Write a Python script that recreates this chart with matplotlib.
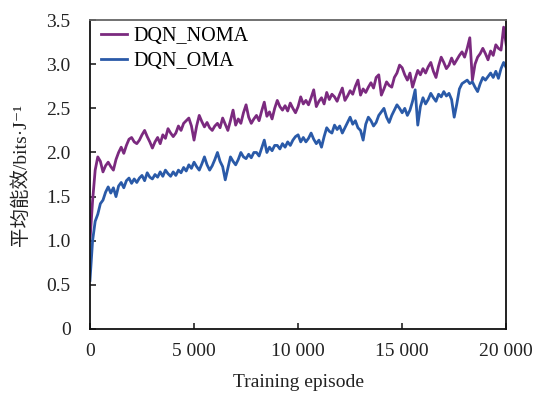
import matplotlib
matplotlib.use("Agg")
import matplotlib.pyplot as plt
import numpy as np

plt.rcParams['font.family'] = ['Liberation Serif', 'Noto Sans CJK SC', 'DejaVu Sans']

# epizode: svaka 125-ta
episodes = np.arange(0, 20001, 125)

# DQN_NOMA - ocitano sa slike
noma = [1.00, 1.45, 1.80, 1.95, 1.90, 1.78, 1.85, 1.89,
        1.84, 1.80, 1.92, 2.00, 2.06, 1.99, 2.08, 2.15,
        2.17, 2.12, 2.10, 2.14, 2.20, 2.25, 2.18, 2.12,
        2.05, 2.12, 2.17, 2.10, 2.20, 2.16, 2.27, 2.22,
        2.18, 2.22, 2.30, 2.25, 2.33, 2.36, 2.39, 2.30,
        2.14, 2.30, 2.42, 2.35, 2.29, 2.34, 2.28, 2.25,
        2.30, 2.33, 2.28, 2.39, 2.32, 2.25, 2.36, 2.48,
        2.31, 2.38, 2.33, 2.45, 2.54, 2.40, 2.33, 2.38,
        2.42, 2.36, 2.47, 2.57, 2.41, 2.46, 2.38, 2.50,
        2.59, 2.52, 2.48, 2.53, 2.47, 2.56, 2.50, 2.45,
        2.52, 2.63, 2.55, 2.59, 2.54, 2.62, 2.71, 2.52,
        2.58, 2.62, 2.55, 2.68, 2.60, 2.66, 2.63, 2.58,
        2.66, 2.73, 2.59, 2.64, 2.70, 2.66, 2.75, 2.82,
        2.65, 2.72, 2.68, 2.74, 2.79, 2.73, 2.85, 2.88,
        2.65, 2.72, 2.80, 2.76, 2.74, 2.85, 2.90, 2.99,
        2.96, 2.88, 2.82, 2.90, 2.74, 2.84, 2.93, 2.88,
        2.95, 2.90, 2.97, 3.02, 2.92, 2.85, 2.98, 3.08,
        3.02, 2.95, 2.99, 3.07, 3.00, 3.05, 3.10, 3.14,
        3.08, 3.18, 3.30, 2.82, 3.00, 3.08, 3.12, 3.18,
        3.12, 3.05, 3.15, 3.10, 3.22, 3.18, 3.16, 3.42,
        3.22]

# DQN_OMA
oma = [0.55, 1.00, 1.22, 1.30, 1.42, 1.46, 1.55, 1.61,
       1.54, 1.60, 1.50, 1.62, 1.66, 1.60, 1.68, 1.71,
       1.65, 1.70, 1.66, 1.71, 1.74, 1.68, 1.77, 1.72,
       1.70, 1.75, 1.72, 1.78, 1.73, 1.80, 1.76, 1.73,
       1.78, 1.74, 1.80, 1.77, 1.83, 1.79, 1.86, 1.82,
       1.89, 1.84, 1.80, 1.87, 1.95, 1.86, 1.80, 1.85,
       1.92, 2.00, 1.90, 1.84, 1.69, 1.82, 1.95, 1.90,
       1.86, 1.92, 2.00, 1.95, 1.93, 1.98, 1.94, 2.00,
       2.00, 1.96, 2.05, 2.14, 2.00, 2.06, 2.02, 2.08,
       2.08, 2.04, 2.10, 2.06, 2.12, 2.08, 2.14, 2.18,
       2.20, 2.12, 2.17, 2.12, 2.16, 2.22, 2.15, 2.10,
       2.14, 2.06, 2.18, 2.28, 2.24, 2.22, 2.31, 2.26,
       2.30, 2.22, 2.28, 2.34, 2.40, 2.32, 2.36, 2.28,
       2.25, 2.14, 2.32, 2.40, 2.36, 2.30, 2.34, 2.42,
       2.46, 2.50, 2.40, 2.34, 2.42, 2.48, 2.54, 2.50,
       2.45, 2.50, 2.42, 2.48, 2.58, 2.71, 2.31, 2.52,
       2.62, 2.55, 2.60, 2.67, 2.62, 2.58, 2.66, 2.63,
       2.69, 2.64, 2.67, 2.60, 2.40, 2.55, 2.72, 2.78,
       2.80, 2.82, 2.78, 2.80, 2.74, 2.69, 2.78, 2.85,
       2.82, 2.86, 2.90, 2.85, 2.92, 2.84, 2.95, 3.02,
       2.96]

xticks = [0, 5000, 10000, 15000, 20000]
xticklabels = ["0", "5 000", "10 000", "15 000", "20 000"]
yticks = [0, 0.5, 1.0, 1.5, 2.0, 2.5, 3.0, 3.5]
yticklabels = ["0", "0.5", "1.0", "1.5", "2.0", "2.5", "3.0", "3.5"]

fig = plt.figure(figsize=(5.42, 3.94), dpi=100)
ax = fig.add_axes([0.166, 0.165, 0.768, 0.784])

ax.plot(episodes, noma, color="#7b2a7f", lw=2.0, label="DQN_NOMA")
ax.plot(episodes, oma, color="#2a5aa8", lw=2.0, label="DQN_OMA")

ax.set_xlim(0, 20000)
ax.set_ylim(0, 3.5)
ax.set_xticks(xticks)
ax.set_xticklabels(xticklabels)
ax.set_yticks(yticks)
ax.set_yticklabels(yticklabels)
ax.tick_params(direction="in", length=4, width=1.2, labelsize=14,
               colors="#222222", top=False, right=False)
ax.tick_params(axis="x", pad=10)
ax.tick_params(axis="y", pad=14)

for s in ["left", "bottom", "right"]:
    ax.spines[s].set_color("#111111")
    ax.spines[s].set_linewidth(1.3)
ax.spines["top"].set_color("#666666")
ax.spines["top"].set_linewidth(1.3)

ax.set_xlabel("Training episode", fontsize=14, color="#222222", labelpad=10)
ax.set_ylabel("平均能效/bits·J⁻¹", fontsize=14, color="#222222", labelpad=12)

ax.legend(loc="upper left", bbox_to_anchor=(0.01, 1.0), frameon=False,
          fontsize=14.5, handlelength=1.3, handletextpad=0.3,
          labelspacing=0.3, borderaxespad=0.0, borderpad=0.35)

fig.savefig("out.png", dpi=100)
